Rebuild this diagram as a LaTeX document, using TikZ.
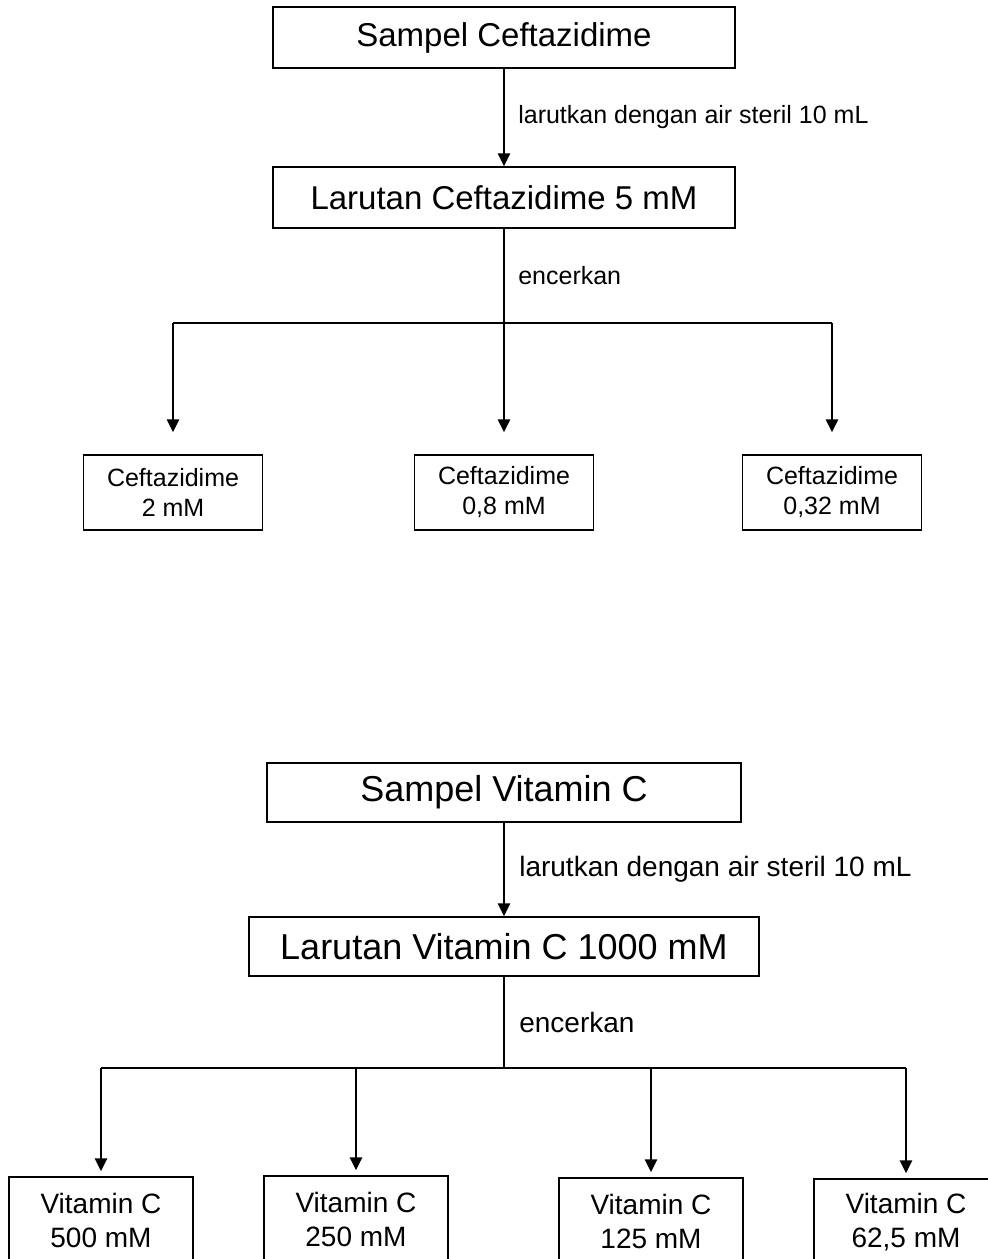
\documentclass[tikz,border=0pt]{standalone}
\usepackage{fontspec}
\setmainfont{Liberation Sans}
\usetikzlibrary{arrows.meta}

\begin{document}
\begin{tikzpicture}
	[x=1pt, y=-1pt,
	box/.style={draw, line width=1.5pt, inner sep=0pt, align=center},
	bigbox/.style={box, font=\fontsize{33}{39}\selectfont},
	smallbox/.style={box, font=\fontsize{25}{30}\selectfont, minimum width=179pt, minimum height=75pt},
	bigboxv/.style={box, font=\fontsize{36}{42}\selectfont, minimum height=59pt},
	smallboxv/.style={box, font=\fontsize{28}{34}\selectfont, minimum width=184pt, minimum height=86pt},
	link/.style={line width=2.6pt},
	arr/.style={link, -{Triangle[width=12pt,length=13pt]}},
	step note/.style={right, inner sep=0pt, xshift=13pt, font=\fontsize{25}{30}\selectfont},
	step notev/.style={right, inner sep=0pt, xshift=14pt, font=\fontsize{28}{34}\selectfont}]
	\useasboundingbox (0,0) rectangle (988,1259);
	\clip (0,0) rectangle (988,1259);
	% Ceftazidime
	\node (samplecef) [bigbox, minimum width=462pt, minimum height=61pt] at (504,37.5) {Sampel Ceftazidime};
	\node (larcef) [bigbox, minimum width=462pt, minimum height=61pt] at (504,197.5) {Larutan Ceftazidime 5 mM};
	\node (cef2) [smallbox] at (173,492.5) {Ceftazidime\\2 mM};
	\node (cef08) [smallbox] at (504,492.5) {Ceftazidime\\0,8 mM};
	\node (cef032) [smallbox] at (832,492.5) {Ceftazidime\\0,32 mM};
	\coordinate (hubcef) at (504,323);
	\draw [arr] (samplecef) -- node [step note] {larutkan dengan air steril 10 mL} (larcef);
	\draw [link] (larcef) -- node [step note] {encerkan} (hubcef);
	\draw [link] (hubcef -| cef2) -- (hubcef -| cef032);
	\foreach \n in {cef2, cef08, cef032}
		\draw [arr, shorten >=22pt] (hubcef -| \n) -- (\n.north);
	% Vitamin C
	\node (samplevit) [bigboxv, minimum width=474pt] at (504,792.5) {Sampel Vitamin C};
	\node (larvit) [bigboxv, minimum width=510pt] at (504,946.5) {Larutan Vitamin C 1000 mM};
	\node (vit500) [smallboxv] at (101,1220) {Vitamin C\\500 mM};
	\node (vit250) [smallboxv] at (356,1219) {Vitamin C\\250 mM};
	\node (vit125) [smallboxv] at (651,1221) {Vitamin C\\125 mM};
	\node (vit625) [smallboxv] at (906,1222) {Vitamin C\\62,5 mM};
	\coordinate (hubvit) at (504,1068);
	\draw [arr] (samplevit) -- node [step notev] {larutkan dengan air steril 10 mL} (larvit);
	\draw [link] (larvit) -- node [step notev] {encerkan} (hubvit);
	\draw [link] (hubvit -| vit500) -- (hubvit -| vit625);
	\foreach \n in {vit500, vit250, vit125, vit625}
		\draw [arr, shorten >=5pt] (hubvit -| \n) -- (\n.north);
\end{tikzpicture}
\end{document}
